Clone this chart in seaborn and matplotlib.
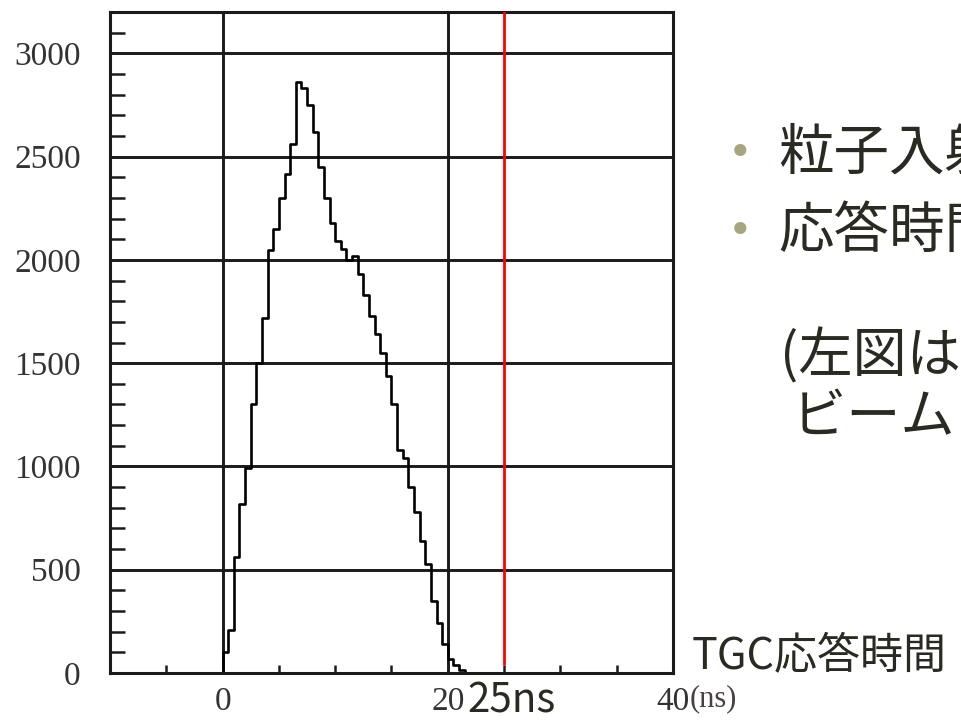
import pandas as pd
import matplotlib
matplotlib.use("Agg")
import matplotlib.pyplot as plt
from matplotlib.ticker import MultipleLocator, FixedLocator
import seaborn as sns

# TGC response time histogram (counts per 0.5 ns bin)
bin_edges = [round(-0.5 + 0.5 * i, 2) for i in range(46)]
counts = [0,
          100, 208, 560, 820, 990, 1300, 1500, 1720, 2050, 2150,
          2300, 2415, 2560, 2860, 2830, 2750, 2620, 2450, 2300, 2180,
          2093, 2055, 2000, 2020, 1930, 1830, 1730, 1640, 1550, 1440,
          1300, 1080, 1040, 900, 780, 640, 530, 350, 240, 140,
          70, 40, 15,
          0]
bin_centers = [(a + b) / 2 for a, b in zip(bin_edges[:-1], bin_edges[1:])]

x_ticks = [0, 20, 40]
x_tick_labels = ["0", "20", "40"]
y_ticks = [0, 500, 1000, 1500, 2000, 2500, 3000]
y_tick_labels = ["0", "500", "1000", "1500", "2000", "2500", "3000"]
bunch_spacing = 25  # ns

bullets = ["粒子入射", "応答時間"]
note_lines = ["(左図は", " ビーム"]

df = pd.DataFrame({"t": bin_centers, "n": counts})

sns.set_style("white")
plt.rcParams['font.family'] = ['Noto Sans CJK JP', 'DejaVu Sans']

fig = plt.figure(figsize=(9.62, 7.2), dpi=100)
ax = fig.add_axes([0.1143, 0.0653, 0.5853, 0.918])

sns.histplot(data=df, x="t", weights="n", bins=bin_edges, element="step",
             fill=False, color="black", linewidth=1.9, ax=ax)

ax.axvline(bunch_spacing, ymin=0.014, ymax=1, color="#ff0000", linewidth=2.0, zorder=5)

ax.set_xlim(-10, 40)
ax.set_ylim(0, 3200)
ax.set_xlabel("")
ax.set_ylabel("")

ax.xaxis.set_major_locator(FixedLocator(x_ticks))
ax.set_xticklabels(x_tick_labels)
ax.yaxis.set_major_locator(FixedLocator(y_ticks))
ax.set_yticklabels(y_tick_labels)
ax.xaxis.set_minor_locator(MultipleLocator(5))
ax.yaxis.set_minor_locator(MultipleLocator(100))

ax.grid(True, which="major", color="#1a1a1a", linewidth=2.1)
ax.tick_params(axis="both", which="major", length=0)
ax.tick_params(axis="y", which="major", pad=21)
ax.tick_params(axis="x", which="major", pad=10)
ax.tick_params(axis="y", which="minor", direction="in", length=11, width=1.8,
               color="#1a1a1a", left=True)
ax.tick_params(axis="x", which="minor", direction="in", length=6, width=1.8,
               color="#1a1a1a", bottom=True)

for lab in ax.get_xticklabels() + ax.get_yticklabels():
    lab.set_family("Liberation Serif")
    lab.set_fontsize(24)
    lab.set_color("#333333")

for sp in ax.spines.values():
    sp.set_color("#1a1a1a")
    sp.set_linewidth(2.2)

ax.annotate("(ns)", xy=(40, 0), xycoords=("data", "axes fraction"),
            xytext=(12, -18.5), textcoords="offset points", ha="left", va="center",
            family="Liberation Serif", fontsize=22, color="#4a3f44")

text_color = "#2b2a22"
fig.text(512 / 962, 1 - 701 / 720, "25ns", ha="center", va="center",
         fontsize=29, color=text_color,
         bbox=dict(facecolor="white", edgecolor="none", pad=0))
fig.text(692 / 962, 1 - 657 / 720, "TGC応答時間", ha="left", va="center",
         fontsize=31, color=text_color)

for i, line in enumerate(bullets):
    yc = 1 - (154 + 78 * i) / 720
    fig.text(740 / 962, yc, "•", ha="center", va="center", fontsize=30,
             color="#a8a67e", family=["DejaVu Sans"])
    fig.text(778 / 962, yc, line, ha="left", va="center", fontsize=40,
             color=text_color)

for i, line in enumerate(note_lines):
    yc = 1 - (356 + 62 * i) / 720
    fig.text(780 / 962, yc, line, ha="left", va="center", fontsize=39,
             color=text_color)

fig.savefig("out.png", dpi=100, facecolor="white")
